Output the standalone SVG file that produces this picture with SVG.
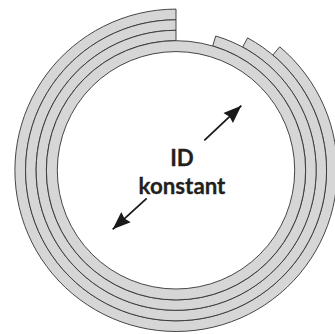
<svg xmlns="http://www.w3.org/2000/svg" width="335" height="334" viewBox="0 0 335 334">
<style>
.r{fill:#d6d6d6;stroke:#333;stroke-width:0.9;stroke-linejoin:miter}
.a{stroke:#1a1a1a;stroke-width:1.8;fill:none;marker-end:url(#h)}
.t{font-family:"Lato","Open Sans",sans-serif;font-weight:700;font-size:22.3px;fill:#231f20;stroke:#231f20;stroke-width:0.3;text-anchor:middle}
</style>
<defs>
<marker id="h" markerUnits="userSpaceOnUse" markerWidth="20" markerHeight="16" refX="18" refY="7.5" orient="auto">
<path d="M0 0.5L18 7.5L0 14.5L2 7.5Z" fill="#1a1a1a"/>
</marker>
</defs>
<rect width="335" height="334" fill="#fff"/>
<g id="rings">
<path class="r" d="M176 9.1A161.2 161.2 0 1 0 279.7 46.8L272.8 55A150.5 150.5 0 1 1 176 19.8Z"/>
<path class="r" d="M176 19.8A150.5 150.5 0 1 0 247.6 37.9L242.6 47.1A140 140 0 1 1 176 30.3Z"/>
<path class="r" d="M176 30.3A140 140 0 1 0 215.7 36L212.7 46A129.6 129.6 0 1 1 176 40.7Z"/>
<circle class="r" cx="176" cy="170.3" r="129.6"/>
<circle cx="176" cy="170.3" r="118.7" fill="#fff" stroke="#333" stroke-width="0.9"/>
</g>
<g id="connectors">
<path class="a" d="M204.3 140.3L241.3 105.7"/>
<path class="a" d="M146.7 198.3L112.7 229.3"/>
</g>
<g id="label">
<text class="t" x="182" y="165.7">ID</text>
<text class="t" x="182" y="193.7">konstant</text>
</g>
</svg>
